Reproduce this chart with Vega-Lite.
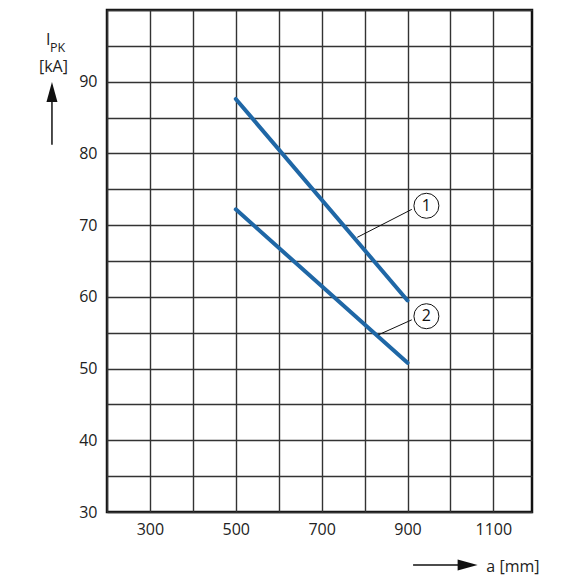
{
  "$schema": "https://vega.github.io/schema/vega-lite/v6.json",
  "width": 425,
  "height": 502,
  "autosize": {"type": "none"},
  "padding": {"left": 107, "top": 10, "right": 48, "bottom": 68},
  "background": "white",
  "config": {
    "view": {"stroke": "#111111", "strokeWidth": 2.5},
    "font": "Open Sans",
    "axis": {"labelFont": "Open Sans", "labelFontSize": 16, "labelColor": "#222222", "ticks": false, "domain": false, "grid": true, "gridColor": "#333333", "gridWidth": 1.4, "gridOpacity": 1, "labelOverlap": false, "labelFlush": false, "title": null}
  },
  "datasets": {
    "curves": [
      {"curve": "1", "a": 500, "i": 87.6},
      {"curve": "1", "a": 900, "i": 59.5},
      {"curve": "2", "a": 500, "i": 72.2},
      {"curve": "2", "a": 900, "i": 50.8}
    ],
    "leaders": [
      {"id": "1", "a": 910, "i": 72.2, "a2": 783, "i2": 68.3},
      {"id": "2", "a": 910, "i": 56.8, "a2": 832, "i2": 54.7}
    ],
    "markers": [
      {"id": "1", "a": 944, "i": 72.7},
      {"id": "2", "a": 944, "i": 57.3}
    ],
    "arrows": [
      {"dir": "up", "a": 71.8, "i": 81.2, "a2": 71.8, "i2": 88},
      {"dir": "right", "a": 913, "i": 22.6, "a2": 1030, "i2": 22.6}
    ],
    "heads": [
      {"dir": "up", "a": 71.8, "i": 88.57},
      {"dir": "right", "a": 1040, "i": 22.6}
    ],
    "titles": [
      {"t": "I", "a": 57.8, "i": 95.12},
      {"t": "[kA]", "a": 41.5, "i": 91.31},
      {"t": "a [mm]", "a": 1083.7, "i": 21.7}
    ],
    "subs": [
      {"t": "PK", "a": 67.1, "i": 94.19}
    ]
  },
  "encoding": {
    "x": {
      "field": "a", "type": "quantitative",
      "scale": {"domain": [200, 1190], "nice": false, "zero": false},
      "axis": {"values": [200, 300, 400, 500, 600, 700, 800, 900, 1000, 1100], "format": "d", "labelExpr": "datum.value % 200 == 100 ? datum.label : ''", "labelPadding": 9}
    },
    "y": {
      "field": "i", "type": "quantitative",
      "scale": {"domain": [30, 100], "nice": false, "zero": false},
      "axis": {"values": [30, 35, 40, 45, 50, 55, 60, 65, 70, 75, 80, 85, 90, 95, 100], "labelExpr": "datum.value % 10 == 0 && datum.value < 100 ? datum.label : ''", "labelPadding": 10}
    }
  },
  "layer": [
    {
      "data": {"name": "curves"},
      "mark": {"type": "line", "color": "#1f67a6", "strokeWidth": 4, "strokeCap": "round"},
      "encoding": {"detail": {"field": "curve", "type": "nominal"}}
    },
    {
      "data": {"name": "leaders"},
      "mark": {"type": "rule", "color": "#111111", "strokeWidth": 1},
      "encoding": {"x2": {"field": "a2"}, "y2": {"field": "i2"}}
    },
    {
      "data": {"name": "markers"},
      "mark": {"type": "point", "shape": "circle", "size": 625, "filled": true, "fill": "white", "stroke": "#111111", "strokeWidth": 1, "opacity": 1}
    },
    {
      "data": {"name": "markers"},
      "mark": {"type": "text", "fontSize": 16, "align": "center", "baseline": "middle", "color": "#111111", "dy": 0},
      "encoding": {"text": {"field": "id"}}
    },
    {
      "data": {"name": "arrows"},
      "mark": {"type": "rule", "color": "#111111", "strokeWidth": 1.5},
      "encoding": {"x2": {"field": "a2"}, "y2": {"field": "i2"}}
    },
    {
      "data": {"name": "heads"},
      "mark": {"type": "point", "filled": true, "size": 400, "color": "#111111", "opacity": 1},
      "encoding": {
        "shape": {"field": "dir", "type": "nominal", "scale": {"domain": ["up", "right"], "range": ["M0,-1L0.55,1L-0.55,1Z", "M1,0L-1,-0.55L-1,0.55Z"]}, "legend": null}
      }
    },
    {
      "data": {"name": "titles"},
      "mark": {"type": "text", "fontSize": 16, "align": "left", "baseline": "alphabetic", "color": "#222222"},
      "encoding": {"text": {"field": "t"}}
    },
    {
      "data": {"name": "subs"},
      "mark": {"type": "text", "fontSize": 12.5, "align": "left", "baseline": "alphabetic", "color": "#222222"},
      "encoding": {"text": {"field": "t"}}
    }
  ]
}
